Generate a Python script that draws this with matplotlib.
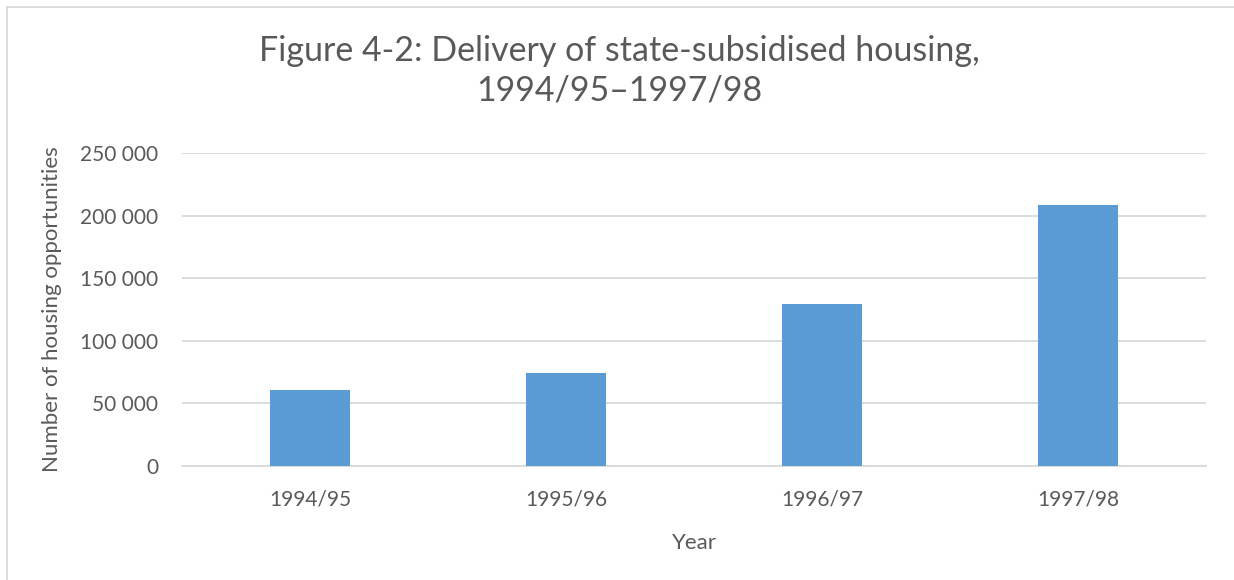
"""
Figure 4-2: delivery of state-subsidised housing, 1994/95-1997/98.
Excel-style column chart.
"""

import matplotlib.pyplot as plt
from matplotlib.patches import Rectangle
from matplotlib.ticker import FuncFormatter

# Dados
years = ["1994/95", "1995/96", "1996/97", "1997/98"]
houses = [60600, 74200, 128900, 208800]
y_ticks = [0, 50000, 100000, 150000, 200000, 250000]

BAR_COLOR = "#5b9bd5"
GRID_COLOR = "#d9d9d9"
TEXT_COLOR = "#595959"

plt.rcParams["font.family"] = ["Lato", "DejaVu Sans"]

fig = plt.figure(figsize=(12.34, 5.8), dpi=100)
ax = fig.add_axes([182 / 1234, 1 - 465.7 / 580, (1206 - 182) / 1234, (465.7 - 153) / 580])

x = range(len(years))
ax.bar(x, houses, width=0.3125, color=BAR_COLOR, zorder=3)

ax.set_xlim(-0.5, len(years) - 0.5)
ax.set_ylim(0, 250000)
ax.set_yticks(y_ticks)
ax.yaxis.set_major_formatter(FuncFormatter(lambda v, _: f"{int(v):,}".replace(",", " ")))
ax.set_xticks(list(x))
ax.set_xticklabels(years)

ax.grid(axis="y", color=GRID_COLOR, linewidth=1.3, zorder=0)
for side in ["top", "right", "left"]:
    ax.spines[side].set_visible(False)
ax.spines["bottom"].set_color(GRID_COLOR)
ax.spines["bottom"].set_linewidth(1.3)

ax.tick_params(axis="both", length=0, labelsize=15, colors=TEXT_COLOR)
ax.tick_params(axis="y", pad=17)
ax.tick_params(axis="x", pad=17)

ax.set_xlabel("Year", fontsize=16, color=TEXT_COLOR, labelpad=17)
ax.set_ylabel("Number of housing opportunities", fontsize=16, color=TEXT_COLOR, labelpad=13)

fig.text(0.502, 0.878, "Figure 4-2: Delivery of state-subsidised housing,\n1994/95\u20131997/98",
         ha="center", va="center", fontsize=24.5, color=TEXT_COLOR, linespacing=1.3)

# Borda do gráfico (estilo Excel)
fig.patches.append(Rectangle((7 / 1234, -0.05), 1.1, 1 - 7 / 580 + 0.05,
                             transform=fig.transFigure, fill=False,
                             edgecolor=GRID_COLOR, linewidth=1.3))

fig.savefig("out.png", dpi=100)
plt.close(fig)
